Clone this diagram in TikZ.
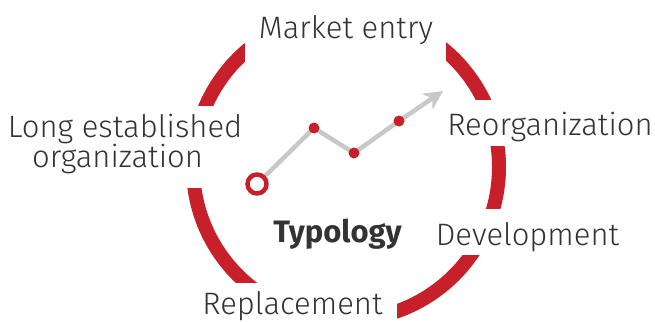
\documentclass[tikz,border=0pt]{standalone}
\usepackage{fontspec}
\setmainfont{Fira Sans Light}[BoldFont=Fira Sans Bold]
\usetikzlibrary{arrows.meta}
\definecolor{ringred}{HTML}{C8202A}
\definecolor{txt}{HTML}{333333}
\definecolor{linegray}{HTML}{C8C8C8}
\tikzset{
  lbl/.style={anchor=base, text=txt, font=\fontsize{31}{36}\selectfont, inner sep=0pt},
  mask/.style={fill=white, draw=none},
  dot/.style={circle, fill=ringred, minimum size=11pt, inner sep=0pt},
}
\begin{document}
\begin{tikzpicture}[x=1pt,y=-1pt]
\useasboundingbox (0,0) rectangle (655,321);
% ring
\draw[ringred, line width=14pt] (346,167) circle (153);
% masks where labels cut the ring
\fill[mask] (245,-10) rectangle (446,66);
\fill[mask] (-10,106) rectangle (250,188);
\fill[mask] (445,100) rectangle (665,146);
\fill[mask] (430,209) rectangle (665,255);
\fill[mask] (195,283) rectangle (397,340);
% labels
\node[lbl] (me) at (346,39) {Market entry};
\node[lbl] (le1) at (125,137) {Long established};
\node[lbl] (le2) at (117.5,167) {organization};
\node[lbl] (re) at (550,135) {Reorganization};
\node[lbl] (de) at (527.5,245) {Development};
\node[lbl] (rp) at (292.5,314) {Replacement};
\node[lbl, font=\fontsize{31}{36}\selectfont\bfseries] (ty) at (337.5,242) {Typology};
% chart
\coordinate (p1) at (257,184);
\coordinate (p2) at (314,128);
\coordinate (p3) at (354,153);
\coordinate (p4) at (399,121);
\coordinate (tip) at (443,91);
\draw[linegray, line width=4.5pt, line join=miter, -{Stealth[length=19pt,width=19pt,inset=6pt]}] (p1) -- (p2) -- (p3) -- (p4) -- (tip);
\node[dot] (d2) at (p2) {};
\node[dot] (d3) at (p3) {};
\node[dot] (d4) at (p4) {};
\node[circle, draw=ringred, line width=4.5pt, fill=white, minimum size=19pt, inner sep=0pt] (start) at (p1) {};
\end{tikzpicture}
\end{document}
